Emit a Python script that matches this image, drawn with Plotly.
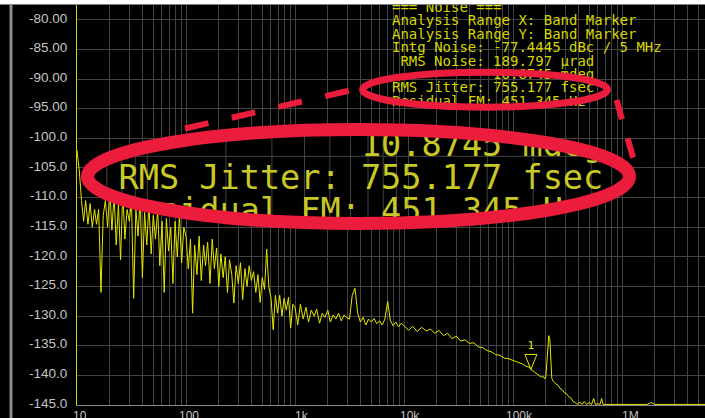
import math
import plotly.graph_objects as go

# ---------------- data ----------------
FREQ_HZ = [
    10, 10.5, 11, 11.5, 12, 12.6, 13.2, 13.8, 14.5, 15.1, 15.8, 16.6, 17.4, 18.2, 19.1, 20, 20.9, 21.9, 22.9, 24,
    25.1, 26.3, 27.5, 28.8, 30.2, 31.6, 33.1, 34.7, 36.3, 38, 39.8, 41.7, 43.7, 45.7, 47.9, 50.1, 52.5, 55, 57.5, 60.3,
    63.1, 66.1, 69.2, 72.4, 75.9, 79.4, 83.2, 87.1, 91.2, 95.5,
    100, 105, 110, 115, 120, 126, 132, 138, 145, 151, 158, 166, 174, 182, 191, 200, 209, 219, 229, 240,
    251, 263, 275, 288, 302, 316, 331, 347, 363, 380, 398, 417, 437, 457, 479, 501, 525, 550, 575, 603,
    631, 661, 692, 724, 759, 794, 832, 871, 912, 955,
    1000, 1060, 1120, 1190, 1260, 1330, 1410, 1500, 1580, 1680, 1780, 1880, 2000, 2110, 2240, 2370, 2510, 2660, 2820, 2990,
    3160, 3350, 3550, 3760, 3980, 4220, 4470, 4730, 5010, 5310, 5620, 5960, 6310, 6680, 7080, 7500, 7940, 8410, 8910, 9440,
    10000, 11000, 12000, 13200, 14500, 16000, 17500, 19200, 21000, 23000, 25100, 27500, 30200, 33100, 36300, 39800,
    43700, 47900, 52500, 57500, 63100, 69200, 75900, 83200, 91200,
    100000, 107000, 115000, 123000, 132000, 141000, 146000, 151000, 158000, 166000, 174000, 182000, 190000, 196000,
    200000, 205000, 209000, 213000, 218000, 222000, 227000, 234000, 245000, 257000, 270000, 282000, 295000, 310000,
    325000, 340000, 355000, 372000, 390000, 410000, 430000, 450000, 475000, 500000, 525000, 550000, 570000, 600000,
    630000, 650000, 670000, 700000,
    1000000, 1500000, 1700000, 1860000, 2000000, 5800000,
]

LEVEL_DBC = [
    -102, -105.5, -110.5, -114, -110.5, -114.5, -111, -115, -112, -114.5, -112, -126, -113, -110.5, -115, -108.5,
    -115.5, -109.5, -118, -111, -120.5, -109, -117, -112, -114, -110.5, -127, -112, -116.5, -110, -123.5, -112.5,
    -118, -111, -119.5, -113, -117, -112, -121.5, -114, -126, -113.5, -119, -115, -124.5, -114, -120, -113, -121, -115,
    -116.5, -122, -117, -129.5, -118, -123, -116.5, -124, -118, -121.5, -117.5, -124.5, -117, -122, -118.5, -125,
    -119.5, -123.5, -120, -126, -120.5, -123, -127.8, -121.5, -124.5, -121, -127.2, -122, -125, -121.5, -124, -122.5,
    -126, -123, -127.7, -123.5, -125.5, -118.7, -125, -127, -132.3, -126.5, -129.5, -126.5, -130, -127, -129, -126.8,
    -132, -128,
    -128.5, -131.5, -128, -130.5, -128.5, -131, -129, -130, -128.8, -131.2, -129.5, -130.2, -129, -131, -129.8, -130.5,
    -129.5, -130.8, -129.8, -130.3, -130.5, -126.5, -125.3, -129.5, -131, -130.2, -131.5, -130.5, -131, -130.4, -131.3,
    -130.8, -131.5, -130.5, -127.5, -130.8, -131.6, -131, -131.8, -131.2,
    -131.6, -132.4, -131.7, -132.6, -131.9, -132.5, -132.2, -132.9, -132.4, -133.3, -132.9, -133.8, -133.4, -134.2,
    -134.0, -134.6, -134.5, -135.2, -135.3, -135.8, -136.0, -136.5, -136.6, -137.1, -137.2,
    -137.5, -137.7, -138.0, -138.1, -138.5, -138.6, -139.0, -139.2, -139.4, -139.8, -140.0, -140.3, -140.2, -140.6,
    -140.3, -137.5, -134.5, -133.3, -134.0, -137.5, -140.5, -141.0, -141.4, -141.6, -142.2, -142.4, -142.9, -143.1,
    -143.6, -143.8, -144.4, -144.6, -144.9, -144.5, -144.9, -144.4, -144.9, -144.6, -144.9, -143.9, -144.9, -144.8,
    -144.9, -143.9, -144.9, -144.9,
    -144.9, -144.9, -144.9, -144.6, -144.9, -144.9,
]

MARKER_FREQ_HZ = 146000
MARKER_LEVEL_DBC = -139.0
MARKER_LABEL = "1"

X_TICK_VALUES = [10, 100, 1000, 10000, 100000, 1000000]
X_TICK_LABELS = ["10", "100", "1k", "10k", "100k", "1M"]
Y_TICK_VALUES = [-80, -85, -90, -95, -100, -105, -110, -115, -120, -125, -130, -135, -140, -145]
Y_TICK_LABELS = ["-80.00", "-85.00", "-90.00", "-95.00", "-100.0", "-105.0", "-110.0", "-115.0",
                 "-120.0", "-125.0", "-130.0", "-135.0", "-140.0", "-145.0"]

NOISE_LINES = [
    "=== Noise ===",
    "Analysis Range X: Band Marker",
    "Analysis Range Y: Band Marker",
    "Intg Noise: -77.4445 dBc / 5 MHz",
    "RMS Noise: 189.797 µrad",
    "10.8745 mdeg",
    "RMS Jitter: 755.177 fsec",
    "Residual FM: 451.345 Hz",
]
NOISE_INDENT = [0, 0, 0, 0, 1, 12, 0, 0]

ZOOM_LINES = ["10.8745 mdeg", "RMS Jitter: 755.177 fsec", "Residual FM: 451.345 Hz"]
ZOOM_INDENT = [12, 0, 0]

# ---------------- layout geometry (pixels) ----------------
W, H = 705, 418
ML, MR, MT, MB = 77, 0, 5, 13
PW, PH = W - ML - MR, H - MT - MB
DECADE_PX = 109.0
X_LOG_MIN = 1.0
X_LOG_MAX = 1.0 + PW / DECADE_PX
Y_MIN, Y_MAX = -145.0, -77.5
DB_PER_PX = (Y_MAX - Y_MIN) / PH

BG = "#000000"
GRID = "#434343"
TRACE = "#e6e600"
TEXT_Y = "#d6d600"
ZOOM_TEXT = "#c8c826"
RED = "#ec1c3c"
LABEL = "#c4c4c4"


def pxp(p):
    return (p - ML) / PW


def pyp(q):
    return (H - MB - q) / PH


def fx(f):
    return ML + DECADE_PX * (math.log10(f) - X_LOG_MIN)


def fy(v):
    return H - MB - (v - Y_MIN) / DB_PER_PX


fig = go.Figure()

# main trace
fig.add_trace(go.Scatter(x=FREQ_HZ, y=LEVEL_DBC, mode="lines",
                         line=dict(color=TRACE, width=1), hoverinfo="skip", showlegend=False))

# marker 1 (hollow triangle on the trace) and its label
k_lo = 10 ** (-6 / DECADE_PX)
k_hi = 10 ** (6 / DECADE_PX)
top = MARKER_LEVEL_DBC + 15 * DB_PER_PX
fig.add_trace(go.Scatter(
    x=[MARKER_FREQ_HZ * k_lo, MARKER_FREQ_HZ * k_hi, MARKER_FREQ_HZ, MARKER_FREQ_HZ * k_lo],
    y=[top, top, MARKER_LEVEL_DBC, top], mode="lines",
    line=dict(color=TRACE, width=1), hoverinfo="skip", showlegend=False))
fig.add_trace(go.Scatter(
    x=[MARKER_FREQ_HZ], y=[MARKER_LEVEL_DBC + 23 * DB_PER_PX], mode="text", text=[MARKER_LABEL],
    textposition="middle center", textfont=dict(family="DejaVu Sans Mono", size=11, color=TRACE),
    hoverinfo="skip", showlegend=False))
# band marker indicator under the axis
fig.add_trace(go.Scatter(
    x=[MARKER_FREQ_HZ], y=[Y_MIN - 6 * DB_PER_PX], mode="markers",
    marker=dict(symbol="triangle-up", size=10, color="#ffe600", line=dict(width=0)),
    cliponaxis=False, hoverinfo="skip", showlegend=False))

# small analysis text (overlay pixel axes so it stays below the red shapes)
SX0, SCW = 392.0, 0.602 * 14
SY0, SDY = 8.5, 13.4
fig.add_trace(go.Scatter(
    x=[SX0 + (ind + len(t) / 2) * SCW for t, ind in zip(NOISE_LINES, NOISE_INDENT)],
    y=[SY0 + i * SDY for i in range(len(NOISE_LINES))],
    mode="text", text=NOISE_LINES, textposition="middle center",
    textfont=dict(family="DejaVu Sans Mono", size=14, color=TEXT_Y),
    xaxis="x2", yaxis="y2", hoverinfo="skip", showlegend=False))

# ---------------- magnified inset inside the big ellipse ----------------
CX, CY = 358.5, 176.5
A_MID, B_MID, BAND = 271.0, 47.0, 13.0
A_IN, B_IN = A_MID - BAND / 2, B_MID - BAND / 2

ZCW = 20.2
ZFS = ZCW / 0.602
ZX0 = 118.5
ZY = [147.5, 180.5, 213.5]
MAG_X = ZCW / SCW
MAG_Y = (ZY[1] - ZY[0]) / SDY
JIT_SMALL_Y = SY0 + 6 * SDY

grid_f = [m * 10 ** d for d in range(1, 7) for m in range(1, 10)]
grid_f = [f for f in grid_f if math.log10(f) <= X_LOG_MAX]

gx, gy = [], []
for f in grid_f:
    p = ZX0 + (fx(f) - SX0) * MAG_X
    gx += [p, p, None]
    gy += [90, 270, None]
for v in Y_TICK_VALUES:
    q = ZY[1] + (fy(v) - JIT_SMALL_Y) * MAG_Y
    gx += [60, 660, None]
    gy += [q, q, None]

zoom_x = [ZX0 + (ind + len(t) / 2) * ZCW for t, ind in zip(ZOOM_LINES, ZOOM_INDENT)]

layout_axes = {}
y = 134.0
n = 3
while y < 219.0:
    ya, yb = y, min(y + 5.0, 219.0)
    if ya <= CY <= yb:
        dy = 0.0
    else:
        dy = min(abs(ya - CY), abs(yb - CY))
    w = A_IN * math.sqrt(max(0.0, 1 - (dy / B_IN) ** 2)) + 4
    layout_axes["xaxis%d" % n] = dict(domain=[pxp(CX - w), pxp(CX + w)], range=[CX - w, CX + w],
                                      anchor="y%d" % n, visible=False, fixedrange=True)
    layout_axes["yaxis%d" % n] = dict(domain=[pyp(yb), pyp(ya)], range=[yb, ya],
                                      anchor="x%d" % n, visible=False, fixedrange=True)
    fig.add_trace(go.Scatter(x=gx, y=gy, mode="lines", line=dict(color=GRID, width=1),
                             xaxis="x%d" % n, yaxis="y%d" % n, hoverinfo="skip", showlegend=False))
    fig.add_trace(go.Scatter(x=zoom_x, y=ZY, mode="text", text=ZOOM_LINES, textposition="middle center",
                             textfont=dict(family="DejaVu Sans Mono", size=ZFS, color=ZOOM_TEXT),
                             xaxis="x%d" % n, yaxis="y%d" % n, hoverinfo="skip", showlegend=False))
    y += 5.0
    n += 1

# ---------------- shapes ----------------
shapes = [
    # white strip at the top edge
    dict(type="rect", xref="paper", yref="paper", x0=pxp(0), x1=pxp(W), y0=pyp(4.5), y1=pyp(0),
         fillcolor="#ffffff", line=dict(width=0), layer="above"),
    # gray bar at the left
    dict(type="rect", xref="paper", yref="paper", x0=pxp(9.5), x1=pxp(12.5), y0=pyp(H), y1=pyp(4.5),
         fillcolor="#8c8c8c", line=dict(width=0), layer="above"),
    # big ellipse
    dict(type="circle", xref="paper", yref="paper", x0=pxp(CX - A_MID), x1=pxp(CX + A_MID),
         y0=pyp(CY + B_MID), y1=pyp(CY - B_MID), line=dict(color=RED, width=BAND), layer="above"),
    # small ellipse
    dict(type="circle", xref="paper", yref="paper", x0=pxp(485 - 122.5), x1=pxp(485 + 122.5),
         y0=pyp(89.7 + 17.5), y1=pyp(89.7 - 17.5), line=dict(color=RED, width=7), layer="above"),
    # dashed connectors
    dict(type="line", xref="paper", yref="paper", x0=pxp(185), y0=pyp(128.5), x1=pxp(352), y1=pyp(90),
         line=dict(color=RED, width=6, dash="24px,24px"), layer="above"),
    dict(type="line", xref="paper", yref="paper", x0=pxp(616.5), y0=pyp(100), x1=pxp(633.5), y1=pyp(159),
         line=dict(color=RED, width=6, dash="20px,20px"), layer="above"),
]

# x tick labels as annotations (numeric part centred on the grid line)
XFS = 12
annotations = []
for v, lab in zip(X_TICK_VALUES, X_TICK_LABELS):
    num = lab.rstrip("kM")
    annotations.append(dict(x=math.log10(v), xref="x", y=pyp(407), yref="paper", text=lab,
                            showarrow=False, xanchor="left", yanchor="top",
                            xshift=-len(num) * 0.556 * XFS / 2 + 1,
                            font=dict(family="Liberation Sans", size=XFS, color=LABEL)))

fig.update_layout(
    width=W, height=H, autosize=False,
    margin=dict(l=ML, r=MR, t=MT, b=MB, pad=0),
    paper_bgcolor=BG, plot_bgcolor=BG,
    showlegend=False, hovermode=False,
    xaxis=dict(type="log", range=[X_LOG_MIN, X_LOG_MAX], tickvals=grid_f, showticklabels=False,
               ticks="", showgrid=True, gridcolor=GRID, gridwidth=1, zeroline=False,
               showline=True, linecolor="#8c8c8c", linewidth=1, fixedrange=True),
    yaxis=dict(range=[Y_MIN, Y_MAX], tickvals=Y_TICK_VALUES, ticktext=Y_TICK_LABELS, ticks="",
               showgrid=True, gridcolor=GRID, gridwidth=1, zeroline=False,
               showline=True, linecolor="#d4d400", linewidth=1,
               tickfont=dict(family="Liberation Sans", size=13.5, color=LABEL),
               ticklabelstandoff=6, ticklabelshift=-2, fixedrange=True),
    xaxis2=dict(overlaying="x", range=[ML, W], visible=False, anchor="y2", fixedrange=True),
    yaxis2=dict(overlaying="y", range=[H - MB, MT], visible=False, anchor="x2", fixedrange=True),
    shapes=shapes,
    annotations=annotations,
)
fig.update_layout(**layout_axes)

fig.write_html(
    "out.html",
    config={"displayModeBar": False, "staticPlot": True},
    post_script="document.body.style.margin='0';document.body.style.padding='0';"
                "document.body.style.background='#000';",
)
